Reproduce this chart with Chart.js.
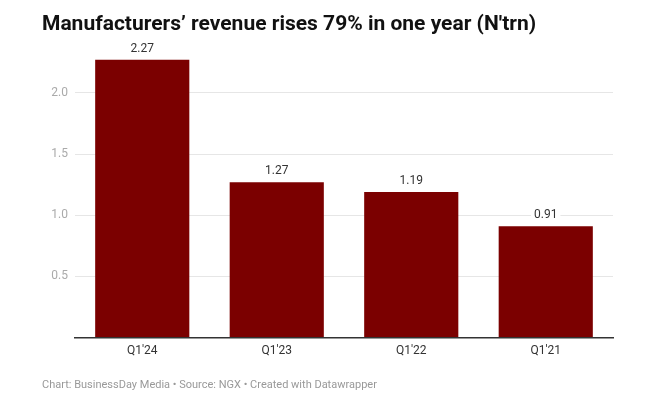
<!DOCTYPE html>
<html>
<head>
<meta charset="utf-8">
<script src="https://cdn.jsdelivr.net/npm/chart.js@4.4.1/dist/chart.umd.min.js"></script>
<style>
  html, body { margin: 0; padding: 0; background: #fff; }
  #wrap { width: 667px; height: 400px; position: relative; }
</style>
</head>
<body>
<div id="wrap"><canvas id="revenue-plot"></canvas></div>
<script>
// data
const quarters = ["Q1'24", "Q1'23", "Q1'22", "Q1'21"];
const revenue = [2.27, 1.27, 1.19, 0.91];
const yTicks = [0, 0.5, 1.0, 1.5, 2.0];

const titleText = "Manufacturers\u2019 revenue rises 79% in one year (N'trn)";
const footerText = "Chart: BusinessDay Media \u2022 Source: NGX \u2022 Created with Datawrapper";

// draws the value above each bar, using the bar positions from the chart
const valueLabels = {
    id: 'valueLabels',
    afterDatasetsDraw(chart) {
        const ctx = chart.ctx;
        const meta = chart.getDatasetMeta(0);
        ctx.save();
        ctx.font = '12px Roboto';
        ctx.textAlign = 'center';
        ctx.textBaseline = 'bottom';
        meta.data.forEach((bar, i) => {
            const txt = revenue[i].toFixed(2);
            const w = ctx.measureText(txt).width;
            // white knock-out behind the label so grid lines break around it
            ctx.fillStyle = '#fff';
            ctx.fillRect(bar.x - w / 2 - 3, bar.y - 20, w + 6, 15);
            ctx.fillStyle = '#333';
            ctx.fillText(txt, bar.x, bar.y - 5);
        });
        ctx.restore();
    }
};

const chartConfig = {
    type: 'bar',
    data: {
        labels: quarters,
        datasets: [{
            data: revenue,
            backgroundColor: '#7b0000',
            borderWidth: 0,
            barPercentage: 0.7,
            categoryPercentage: 1.0
        }]
    },
    options: {
        responsive: true,
        maintainAspectRatio: false,
        animation: false,
        layout: { padding: { top: 12, left: 42, right: 54, bottom: 8 } },
        plugins: {
            legend: { display: false },
            tooltip: { enabled: false },
            title: {
                display: true,
                text: titleText,
                align: 'start',
                color: '#111',
                font: { family: 'Roboto', size: 21, weight: 'bold' },
                padding: { top: 0, bottom: 19 }
            },
            subtitle: {
                display: true,
                position: 'bottom',
                text: footerText,
                align: 'start',
                color: '#999',
                font: { family: 'Roboto', size: 11 },
                padding: { top: 15, bottom: 0 }
            }
        },
        scales: {
            x: {
                grid: { display: false, drawTicks: false },
                border: { color: '#333', width: 1.5 },
                ticks: {
                    color: '#333',
                    font: { family: 'Roboto', size: 12 },
                    padding: 6
                }
            },
            y: {
                min: 0,
                max: 2.3,
                border: { display: false },
                grid: { color: '#e6e6e6', drawTicks: false },
                afterBuildTicks(scale) {
                    scale.ticks = yTicks.map(v => ({ value: v }));
                },
                afterFit(scale) {
                    scale.width = 33;
                },
                ticks: {
                    color: '#aaa',
                    font: { family: 'Roboto', size: 12 },
                    padding: 7,
                    callback: v => (v === 0 ? '' : v.toFixed(1))
                }
            }
        }
    },
    plugins: [valueLabels]
};

new Chart(document.getElementById('revenue-plot'), chartConfig);
</script>
</body>
</html>
